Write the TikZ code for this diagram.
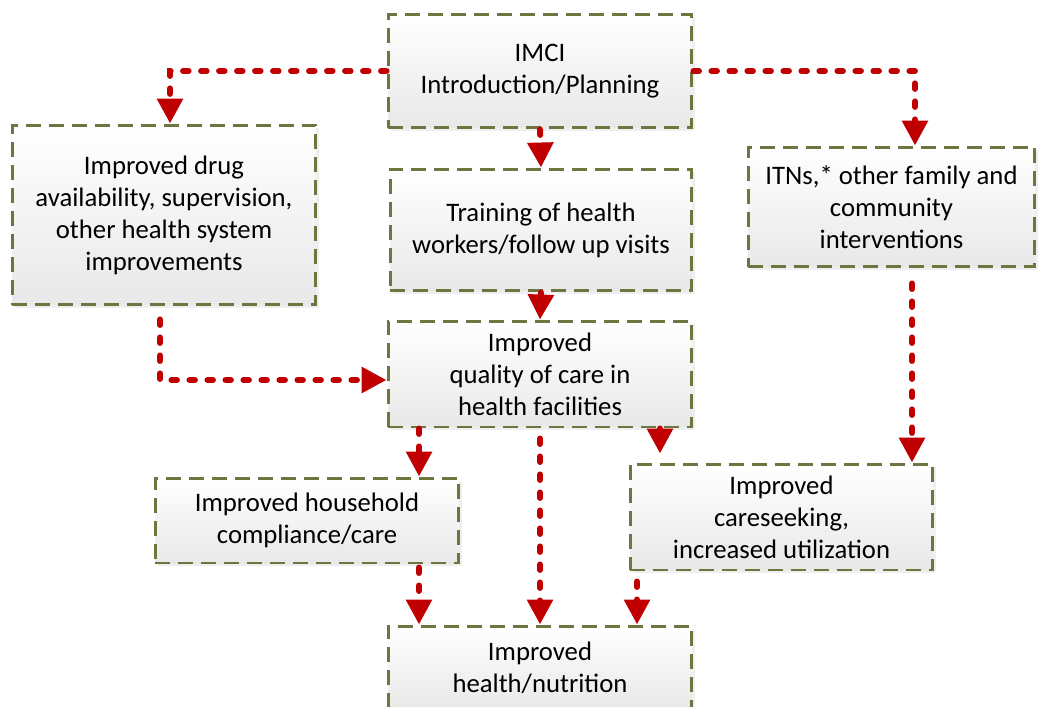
\documentclass[tikz,border=0pt]{standalone}
\usepackage{fontspec}
\setmainfont{Carlito}
\usetikzlibrary{arrows.meta,shadows}
\definecolor{boxline}{RGB}{112,117,64}
\definecolor{flowred}{RGB}{192,0,0}

\begin{document}
\begin{tikzpicture}[x=0.02cm, y=-0.02cm,
        stagebox/.style={rectangle, draw=boxline, line width=1.7pt, dash pattern=on 0.3cm off 0.16cm, top color=white, bottom color=black!9, drop shadow={shadow xshift=1.5pt, shadow yshift=-1.5pt, fill=black!12}, inner sep=0pt, align=center, font=\fontsize{15.2}{18.2}\selectfont},
        flow/.style={draw=flowred, line width=3.4pt, line cap=round, dash pattern=on 0.11cm off 0.25cm, -{Triangle[length=0.5cm, width=0.5cm]}},
        ]
        \useasboundingbox (0,0) rectangle (1043,706);
        %Nodes
        \node[stagebox, minimum width=6.08cm, minimum height=2.28cm] (imci)      at (540,71)    {IMCI\\Introduction/Planning};
        \node[stagebox, minimum width=6.08cm, minimum height=3.6cm]  (drug)      at (164,215)   {Improved drug\\availability, supervision,\\other health system\\improvements};
        \node[stagebox, minimum width=6.04cm, minimum height=2.44cm] (training)  at (541,230)   {Training of health\\workers/follow up visits};
        \node[stagebox, minimum width=5.74cm, minimum height=2.4cm]  (itns)      at (891.5,207) {ITNs,* other family and\\community\\interventions};
        \node[stagebox, minimum width=6.08cm, minimum height=2.12cm] (quality)   at (540,374)   {Improved\\quality of care in\\health facilities};
        \node[stagebox, minimum width=6.08cm, minimum height=1.7cm]  (household) at (307,520.5) {Improved household\\compliance/care};
        \node[stagebox, minimum width=6.06cm, minimum height=2.12cm] (careseek)  at (781.5,517) {Improved\\careseeking,\\increased utilization};
        \node[stagebox, minimum width=6.08cm, minimum height=1.68cm] (health)    at (540,668)   {Improved\\health/nutrition};

        %Lines
        \draw[flow] (imci.west) -| ([xshift=0.12cm]drug.north);
        \draw[flow] (imci.east) -| ([xshift=0.47cm]itns.north);
        \draw[flow] (imci.south) -- (training.north);
        \draw[flow] (training.south) -- (quality.north);
        \draw[flow, shorten <=0.26cm] ([xshift=-0.08cm]drug.south) |- ([yshift=-0.12cm]quality.west);
        \draw[flow, shorten <=0.3cm] ([xshift=0.41cm]itns.south) -- ([xshift=0.41cm]itns.south |- careseek.north);
        \draw[flow] ([xshift=-2.42cm]quality.south) -- ([xshift=-2.42cm]quality.south |- household.north);
        \draw[flow, shorten <=0.2cm] (quality.south) -- (health.north);
        \draw[flow, shorten >=0.18cm] ([xshift=2.4cm]quality.south) -- ([xshift=2.4cm]quality.south |- careseek.north);
        \draw[flow, shorten <=0.06cm] ([xshift=2.24cm]household.south) -- ([xshift=2.24cm]household.south |- health.north);
        \draw[flow, shorten <=0.2cm] ([xshift=-2.89cm]careseek.south) -- ([xshift=-2.89cm]careseek.south |- health.north);
\end{tikzpicture}
\end{document}
